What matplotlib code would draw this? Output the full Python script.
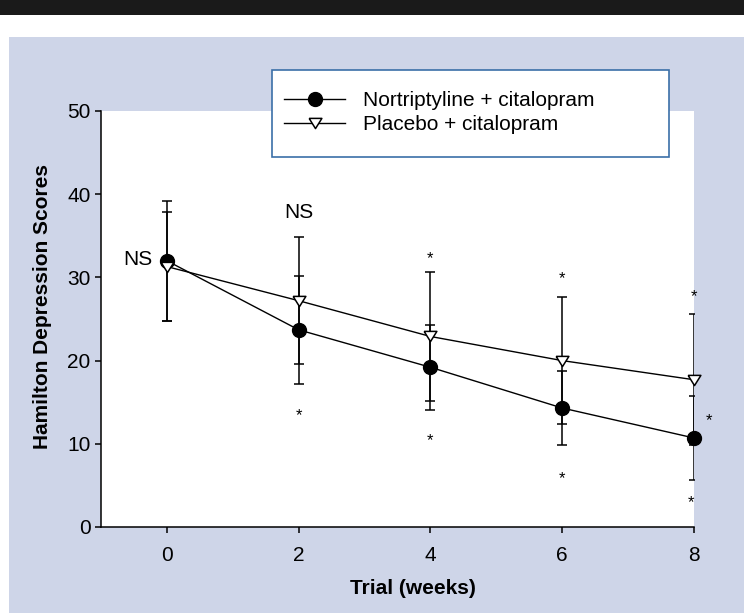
import matplotlib
matplotlib.use("Agg")
import matplotlib.pyplot as plt
from matplotlib.patches import Rectangle
from matplotlib.lines import Line2D

plt.rcParams['font.family'] = ['Liberation Sans', 'DejaVu Sans']

# data
weeks = [0, 2, 4, 6, 8]
nort_mean = [32.0, 23.7, 19.2, 14.3, 10.7]
nort_sd = [7.2, 6.5, 5.1, 4.5, 5.0]
plac_mean = [31.3, 27.2, 22.9, 20.0, 17.7]
plac_sd = [6.6, 7.6, 7.7, 7.6, 7.9]

labels = ['Nortriptyline + citalopram', 'Placebo + citalopram']

# significance marks
ns_x = [-0.44, 2.0]
ns_y = [32.4, 38.1]
star_x = [2.0, 4.0, 4.0, 6.0, 6.0, 8.0, 8.23, 7.95]
star_y = [14.1, 32.9, 11.0, 30.5, 6.5, 28.4, 13.5, 3.6]

W, H = 744, 613
fig = plt.figure(figsize=(W / 100, H / 100), dpi=100)
fig.patch.set_facecolor('white')

# black band at the top, blue panel behind the chart
fig.patches.append(Rectangle((0, (H - 15) / H), 1, 15 / H, transform=fig.transFigure,
                             facecolor='#1a1a1a', edgecolor='none', zorder=-2))
fig.patches.append(Rectangle((9 / W, 0), 1 - 9 / W, (H - 37) / H, transform=fig.transFigure,
                             facecolor='#ced5e8', edgecolor='none', zorder=-2))

ax = fig.add_axes([101 / W, (H - 527) / H, (694 - 101) / W, (527 - 111) / H])
ax.set_facecolor('white')

tri = [(-1, 0.8), (1, 0.8), (0, -0.8), (-1, 0.8)]

ax.errorbar(weeks, nort_mean, yerr=nort_sd, fmt='none', ecolor='black',
            elinewidth=1.1, capsize=3.6, capthick=1.1, zorder=2)
ax.errorbar(weeks, plac_mean, yerr=plac_sd, fmt='none', ecolor='black',
            elinewidth=1.1, capsize=3.6, capthick=1.1, zorder=2)
ax.plot(weeks, nort_mean, color='black', lw=1.0, marker='o', ms=10,
        mfc='black', mec='black', zorder=3, clip_on=False)
ax.plot(weeks, plac_mean, color='black', lw=1.0, marker=tri, ms=9.2,
        mfc='white', mec='black', mew=1.1, zorder=4, clip_on=False)

for x, y in zip(ns_x, ns_y):
    ax.annotate('NS', (x, y), xytext=(0, -0.36 * 15), textcoords='offset points',
                ha='center', va='baseline', fontsize=15)
for x, y in zip(star_x, star_y):
    ax.annotate('*', (x, y), xytext=(0, -0.6 * 12), textcoords='offset points',
                ha='center', va='baseline', fontsize=12, annotation_clip=False)

ax.set_xlim(-1, 8)
ax.set_ylim(0, 50)
ax.set_xticks(weeks)
ax.set_yticks([0, 10, 20, 30, 40, 50])
for s in ['top', 'right']:
    ax.spines[s].set_visible(False)
for s in ['left', 'bottom']:
    ax.spines[s].set_linewidth(1.1)
ax.tick_params(direction='out', length=4.5, width=1.1, labelsize=15)
ax.tick_params(axis='x', pad=9)
ax.tick_params(axis='y', pad=3)

ax.set_xlabel('Trial (weeks)', fontsize=15, fontweight='bold')
ax.set_ylabel('Hamilton Depression Scores', fontsize=15, fontweight='bold')
ax.xaxis.set_label_coords(0.526, -0.125)
ax.yaxis.set_label_coords(-0.083, 0.53)

# legend box (wider than its content, sticks out above the axes)
fig.patches.append(Rectangle((272 / W, (H - 157) / H), 397 / W, 87 / H,
                             transform=fig.transFigure, facecolor='white',
                             edgecolor='#3b6fa8', lw=1.2, zorder=3))
handles = [Line2D([], [], color='black', lw=1.0, marker='o', ms=10, mfc='black'),
           Line2D([], [], color='black', lw=1.0, marker=tri, ms=9.2, mfc='white', mew=1.1)]
fig.legend(handles, labels, loc='upper left', bbox_to_anchor=(284 / W, (H - 91) / H),
           frameon=False, fontsize=15, handlelength=2.93, handletextpad=0.87,
           labelspacing=0.24, borderpad=0, borderaxespad=0)

fig.savefig('out.png', dpi=100)
